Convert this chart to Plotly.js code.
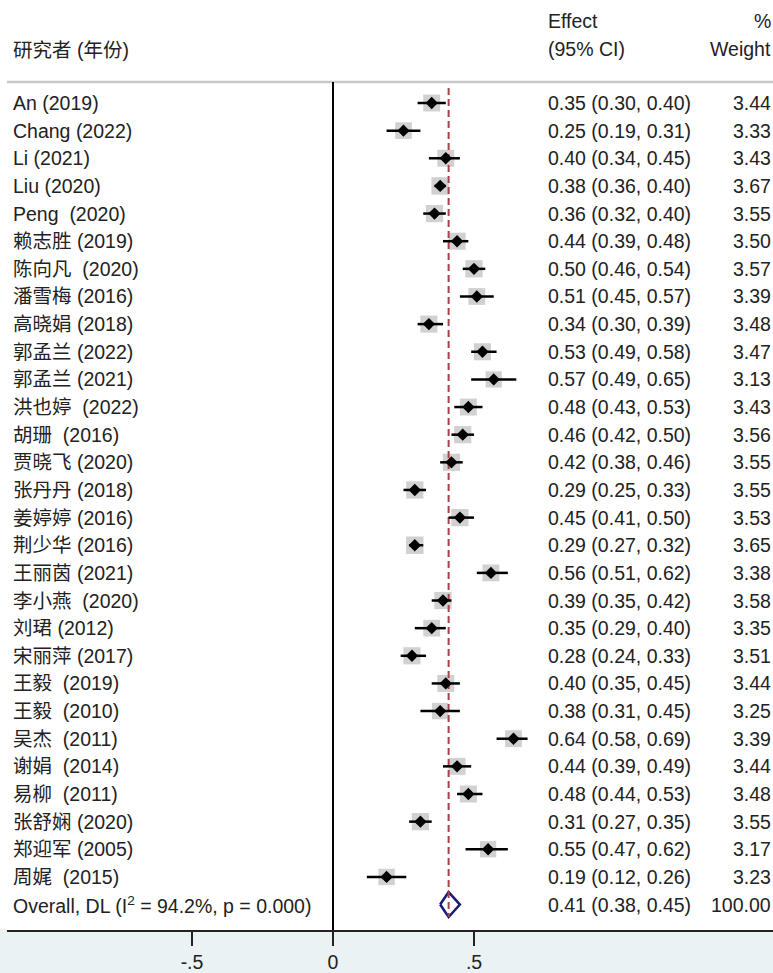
<!DOCTYPE html>
<html>
<head>
<meta charset="utf-8">
<script src="https://cdn.plot.ly/plotly-3.0.1.min.js"></script>
<style>html,body{margin:0;padding:0;background:#fff;}#chart{width:773px;height:973px;}</style>
</head>
<body>
<div id="chart"></div>
<script>
// ---------------- data ----------------
const studies = [
  "An (2019)", "Chang (2022)", "Li (2021)", "Liu (2020)", "Peng\u00a0\u00a0(2020)",
  "赖志胜 (2019)", "陈向凡\u00a0\u00a0(2020)", "潘雪梅 (2016)", "高晓娟 (2018)", "郭孟兰 (2022)",
  "郭孟兰 (2021)", "洪也婷\u00a0\u00a0(2022)", "胡珊\u00a0\u00a0(2016)", "贾晓飞 (2020)", "张丹丹 (2018)",
  "姜婷婷 (2016)", "荆少华 (2016)", "王丽茵 (2021)", "李小燕\u00a0\u00a0(2020)", "刘珺 (2012)",
  "宋丽萍 (2017)", "王毅\u00a0\u00a0(2019)", "王毅\u00a0\u00a0(2010)", "吴杰\u00a0\u00a0(2011)", "谢娟\u00a0\u00a0(2014)",
  "易柳\u00a0\u00a0(2011)", "张舒娴 (2020)", "郑迎军 (2005)", "周娓\u00a0\u00a0(2015)"
];
const effect = [0.35,0.25,0.40,0.38,0.36,0.44,0.50,0.51,0.34,0.53,0.57,0.48,0.46,0.42,0.29,0.45,0.29,0.56,0.39,0.35,0.28,0.40,0.38,0.64,0.44,0.48,0.31,0.55,0.19];
const lower  = [0.30,0.19,0.34,0.36,0.32,0.39,0.46,0.45,0.30,0.49,0.49,0.43,0.42,0.38,0.25,0.41,0.27,0.51,0.35,0.29,0.24,0.35,0.31,0.58,0.39,0.44,0.27,0.47,0.12];
const upper  = [0.40,0.31,0.45,0.40,0.40,0.48,0.54,0.57,0.39,0.58,0.65,0.53,0.50,0.46,0.33,0.50,0.32,0.62,0.42,0.40,0.33,0.45,0.45,0.69,0.49,0.53,0.35,0.62,0.26];
const weight = [3.44,3.33,3.43,3.67,3.55,3.50,3.57,3.39,3.48,3.47,3.13,3.43,3.56,3.55,3.55,3.53,3.65,3.38,3.58,3.35,3.51,3.44,3.25,3.39,3.44,3.48,3.55,3.17,3.23];
const overallLabel = "Overall, DL (I<sup>2</sup> = 94.2%, p = 0.000)";
const overall = {est: 0.41, lo: 0.38, hi: 0.45, w: 100.00};
const tickVals = [-0.5, 0, 0.5];
const tickText = ["-.5", "0", ".5"];
const headerLabel = "研究者 (年份)";

// ---------------- layout helpers ----------------
const W = 773, H = 973, plotBottom = 930;
const row0 = 103, rowStep = 27.64;
const pxToRow = p => (p - row0) / rowStep;
const x0px = 333, unitPx = 282, leftPx = 7;
const pxToX = p => (p - x0px) / unitPx;
const paperX = p => p / W;

const FONT = "'Liberation Sans', Arial, 'Noto Sans CJK SC', sans-serif";
const TXT = "#222";
const FS = 19.5;

const rows = studies.map((_, i) => i);
const overallRow = studies.length;

// gray weight boxes
const boxes = {
  type: "scatter", mode: "markers", x: effect, y: rows,
  marker: {symbol: "square", color: "#bebebe", size: weight.map(w => 17.5 * Math.sqrt(w / 3.67)), line: {width: 0}},
  hoverinfo: "skip", showlegend: false
};

// overall diamond
const dh = 12.5 / rowStep;
const diamond = {
  type: "scatter", mode: "lines",
  x: [overall.lo, overall.est, overall.hi, overall.est, overall.lo],
  y: [overallRow, overallRow - dh, overallRow, overallRow + dh, overallRow],
  fill: "toself", fillcolor: "#ffffff",
  line: {color: "#1a1a78", width: 2.5},
  hoverinfo: "skip", showlegend: false
};

// overall dashed reference line
const refLine = {
  type: "scatter", mode: "lines",
  x: [overall.est, overall.est], y: [pxToRow(88), overallRow + dh],
  line: {color: "#a8414a", width: 2, dash: "7px,4px"},
  hoverinfo: "skip", showlegend: false
};

// CIs + point estimates
const points = {
  type: "scatter", mode: "markers", x: effect, y: rows,
  error_x: {type: "data", symmetric: false,
    array: upper.map((u, i) => u - effect[i]),
    arrayminus: lower.map((l, i) => effect[i] - l),
    color: "#000", thickness: 2.5, width: 0},
  marker: {symbol: "diamond", color: "#000", size: 9.5},
  hoverinfo: "skip", showlegend: false
};

// annotations
const ann = [];
const addText = (text, px, row, anchor) => ann.push({
  text: text, xref: "paper", yref: "y", x: paperX(px), y: row,
  xanchor: anchor, yanchor: "middle", showarrow: false,
  font: {family: FONT, size: FS, color: TXT}
});
studies.forEach((s, i) => {
  addText(s, 11, i, "left");
  addText(effect[i].toFixed(2) + " (" + lower[i].toFixed(2) + ", " + upper[i].toFixed(2) + ")", 546, i, "left");
  addText(weight[i].toFixed(2), 773, i, "right");
});
addText(overallLabel, 11, overallRow, "left");
addText(overall.est.toFixed(2) + " (" + overall.lo.toFixed(2) + ", " + overall.hi.toFixed(2) + ")", 546, overallRow, "left");
addText(overall.w.toFixed(2), 773, overallRow, "right");
addText("Effect", 546, pxToRow(21), "left");
addText("(95% CI)", 546, pxToRow(49), "left");
addText("%", 773, pxToRow(21), "right");
addText("Weight", 773, pxToRow(49), "right");
addText(headerLabel, 11, pxToRow(50), "left");

const layout = {
  width: W, height: H,
  margin: {l: 0, r: 0, t: 0, b: H - plotBottom, pad: 0},
  paper_bgcolor: "#eaf2f3", plot_bgcolor: "#ffffff",
  showlegend: false,
  xaxis: {
    domain: [leftPx / W, 1],
    range: [pxToX(leftPx), pxToX(W)],
    showgrid: false, zeroline: false,
    showline: true, linecolor: "#222", linewidth: 2,
    ticks: "outside", ticklen: 14, tickwidth: 2, tickcolor: "#222",
    tickvals: tickVals, ticktext: tickText, ticklabelstandoff: 0,
    tickfont: {family: FONT, size: FS, color: TXT}, fixedrange: true
  },
  yaxis: {
    range: [pxToRow(plotBottom), pxToRow(0)],
    visible: false, showgrid: false, zeroline: false, fixedrange: true
  },
  shapes: [
    {type: "rect", xref: "paper", yref: "y", x0: 0, x1: paperX(leftPx + 1), y0: pxToRow(0), y1: pxToRow(plotBottom - 1),
     fillcolor: "#ffffff", line: {width: 0}, layer: "below"},
    {type: "line", xref: "paper", yref: "y", x0: paperX(leftPx), x1: 1, y0: pxToRow(82), y1: pxToRow(82),
     line: {color: "#c8c8c8", width: 2.5}, layer: "below"},
    {type: "line", xref: "x", yref: "y", x0: 0, x1: 0, y0: pxToRow(82), y1: pxToRow(plotBottom),
     line: {color: "#000", width: 2}, layer: "below"}
  ],
  annotations: ann
};

Plotly.newPlot("chart", [boxes, diamond, refLine, points], layout, {staticPlot: true, displayModeBar: false});
</script>
</body>
</html>
